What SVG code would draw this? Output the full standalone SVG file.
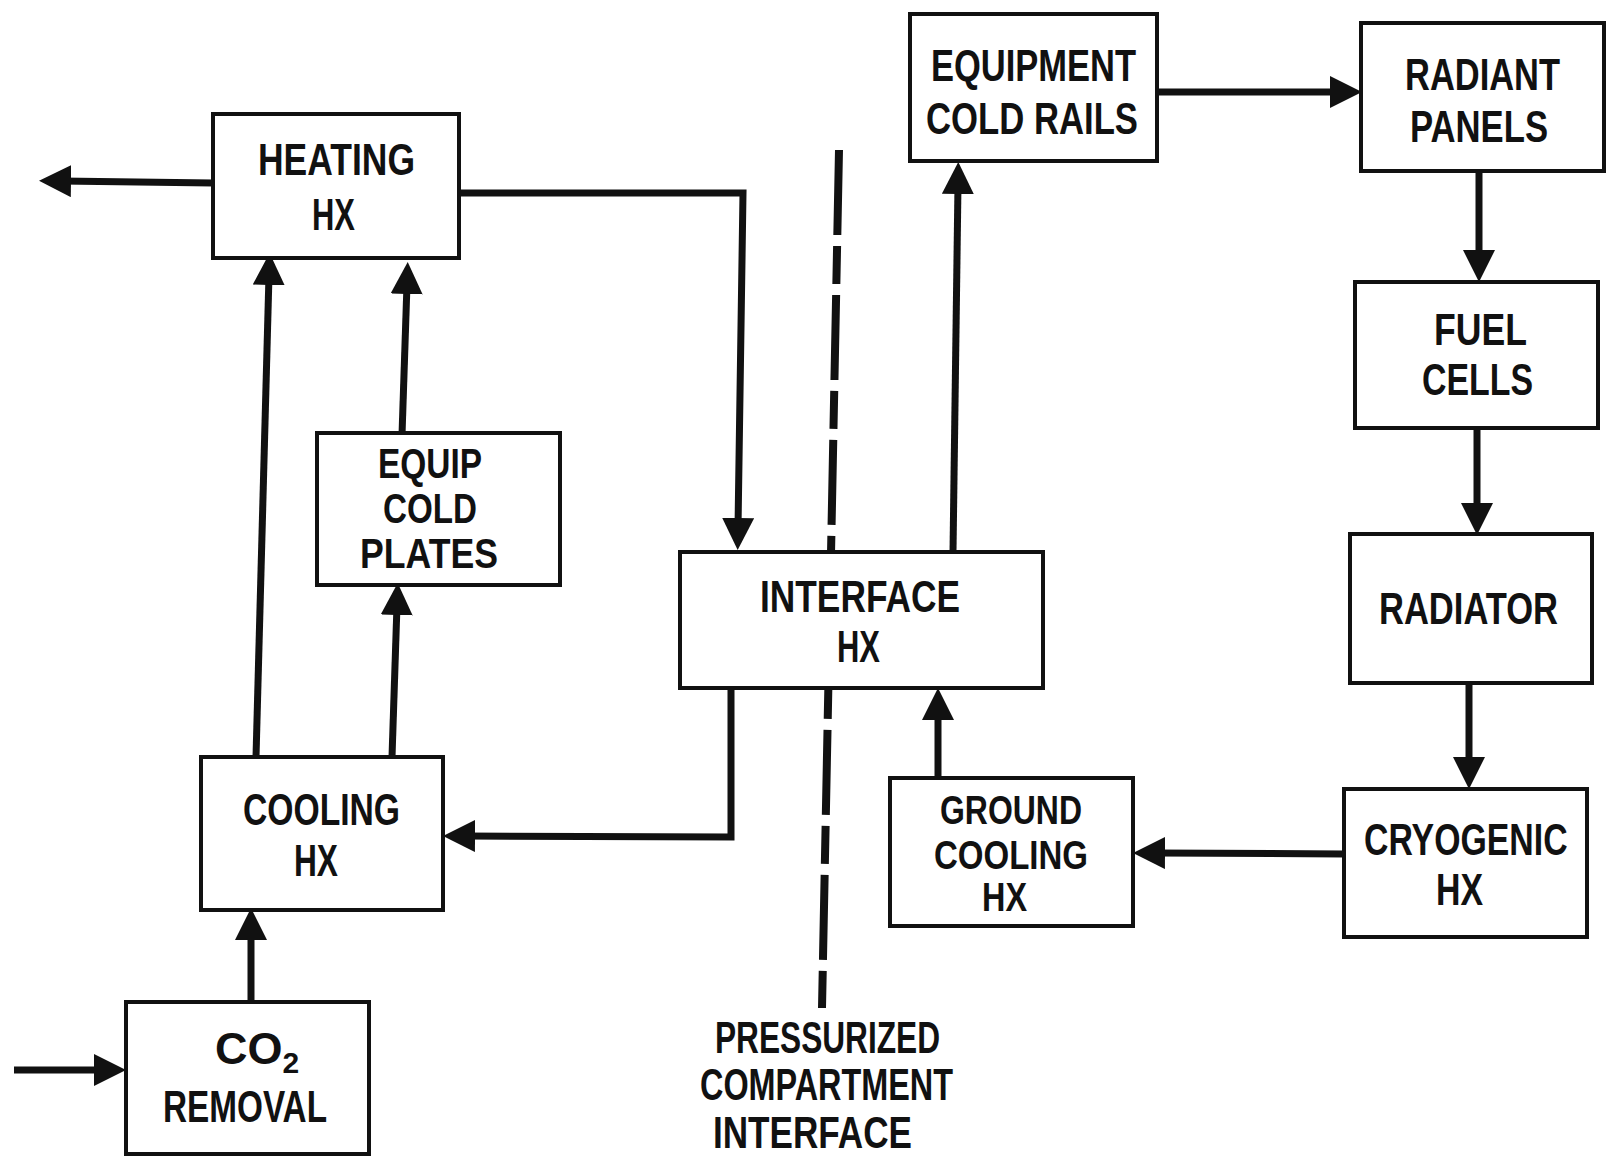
<svg xmlns="http://www.w3.org/2000/svg" width="1611" height="1162" viewBox="0 0 1611 1162">
<style>
.box{fill:#fff;stroke:#111;stroke-width:4}
.lbl{font-family:"Liberation Sans",Arial,sans-serif;font-weight:bold;font-size:45px;fill:#111}
.sm{font-size:42px}
.xs{font-size:40px}
.con{fill:none;stroke:#111;stroke-width:7;marker-end:url(#ah)}
.dash{fill:none;stroke:#111;stroke-width:8;stroke-dasharray:85 11 38 11}
</style>
<defs>
<marker id="ah" markerUnits="userSpaceOnUse" viewBox="0 0 32 32" markerWidth="32" markerHeight="32" refX="10" refY="16" orient="auto">
<path d="M0,0 L32,16 L0,32 Z" fill="#111"/>
</marker>
</defs>
<rect width="1611" height="1162" fill="#fff"/>
<g id="boundary">
<path class="dash" d="M839,150 L822,1008"/>
<text class="lbl" x="715" y="1053" textLength="225" lengthAdjust="spacingAndGlyphs">PRESSURIZED</text>
<text class="lbl" x="700" y="1100" textLength="253" lengthAdjust="spacingAndGlyphs">COMPARTMENT</text>
<text class="lbl" x="713" y="1148" textLength="199" lengthAdjust="spacingAndGlyphs">INTERFACE</text>
</g>
<g id="connectors">
<path class="con" d="M213,183 L61,181"/>
<path class="con" d="M459,193 L743,193 L738,528"/>
<path class="con" d="M402,435 L407,284"/>
<path class="con" d="M256,757 L269,275"/>
<path class="con" d="M392,757 L397,605"/>
<path class="con" d="M731,688 L731,837 L465,836"/>
<path class="con" d="M251,1002 L251,930"/>
<path class="con" d="M14,1070 L104,1070"/>
<path class="con" d="M953,552 L958,184"/>
<path class="con" d="M1157,92 L1340,92"/>
<path class="con" d="M1479,170 L1479,260"/>
<path class="con" d="M1477,428 L1477,513"/>
<path class="con" d="M1469,683 L1469,767"/>
<path class="con" d="M1344,854 L1155,853"/>
<path class="con" d="M938,778 L938,710"/>
</g>
<g id="heating-hx">
<rect class="box" x="213" y="114" width="246" height="144"/>
<text class="lbl" x="258" y="175" textLength="157" lengthAdjust="spacingAndGlyphs">HEATING</text>
<text class="lbl" x="312" y="230" textLength="43" lengthAdjust="spacingAndGlyphs">HX</text>
</g>
<g id="equip-cold-plates">
<rect class="box" x="317" y="433" width="243" height="152"/>
<text class="lbl sm" x="378" y="478" textLength="104" lengthAdjust="spacingAndGlyphs">EQUIP</text>
<text class="lbl sm" x="383" y="523" textLength="94" lengthAdjust="spacingAndGlyphs">COLD</text>
<text class="lbl sm" x="360" y="568" textLength="138" lengthAdjust="spacingAndGlyphs">PLATES</text>
</g>
<g id="cooling-hx">
<rect class="box" x="201" y="757" width="242" height="153"/>
<text class="lbl" x="243" y="825" textLength="157" lengthAdjust="spacingAndGlyphs">COOLING</text>
<text class="lbl" x="294" y="876" textLength="44" lengthAdjust="spacingAndGlyphs">HX</text>
</g>
<g id="co2-removal">
<rect class="box" x="126" y="1002" width="243" height="152"/>
<text class="lbl" x="215" y="1064">CO<tspan font-size="30" dy="9">2</tspan></text>
<text class="lbl" x="163" y="1122" textLength="164" lengthAdjust="spacingAndGlyphs">REMOVAL</text>
</g>
<g id="interface-hx">
<rect class="box" x="680" y="552" width="363" height="136"/>
<text class="lbl" x="760" y="612" textLength="200" lengthAdjust="spacingAndGlyphs">INTERFACE</text>
<text class="lbl" x="837" y="662" textLength="43" lengthAdjust="spacingAndGlyphs">HX</text>
</g>
<g id="equipment-cold-rails">
<rect class="box" x="910" y="14" width="247" height="147"/>
<text class="lbl" x="931" y="81" textLength="205" lengthAdjust="spacingAndGlyphs">EQUIPMENT</text>
<text class="lbl" x="926" y="134" textLength="212" lengthAdjust="spacingAndGlyphs">COLD RAILS</text>
</g>
<g id="radiant-panels">
<rect class="box" x="1361" y="23" width="243" height="148"/>
<text class="lbl" x="1405" y="90" textLength="155" lengthAdjust="spacingAndGlyphs">RADIANT</text>
<text class="lbl" x="1410" y="142" textLength="138" lengthAdjust="spacingAndGlyphs">PANELS</text>
</g>
<g id="fuel-cells">
<rect class="box" x="1355" y="282" width="243" height="146"/>
<text class="lbl" x="1434" y="345" textLength="93" lengthAdjust="spacingAndGlyphs">FUEL</text>
<text class="lbl" x="1422" y="395" textLength="111" lengthAdjust="spacingAndGlyphs">CELLS</text>
</g>
<g id="radiator">
<rect class="box" x="1350" y="534" width="242" height="149"/>
<text class="lbl" x="1379" y="624" textLength="179" lengthAdjust="spacingAndGlyphs">RADIATOR</text>
</g>
<g id="cryogenic-hx">
<rect class="box" x="1344" y="789" width="243" height="148"/>
<text class="lbl" transform="translate(1364,855) scale(0.752,1)" x="0" y="0">CRYOGENIC</text>
<text class="lbl" x="1436" y="905" textLength="47" lengthAdjust="spacingAndGlyphs">HX</text>
</g>
<g id="ground-cooling-hx">
<rect class="box" x="890" y="778" width="243" height="148"/>
<text class="lbl xs" x="940" y="824" textLength="142" lengthAdjust="spacingAndGlyphs">GROUND</text>
<text class="lbl xs" x="934" y="869" textLength="154" lengthAdjust="spacingAndGlyphs">COOLING</text>
<text class="lbl xs" x="982" y="911" textLength="45" lengthAdjust="spacingAndGlyphs">HX</text>
</g>
</svg>
